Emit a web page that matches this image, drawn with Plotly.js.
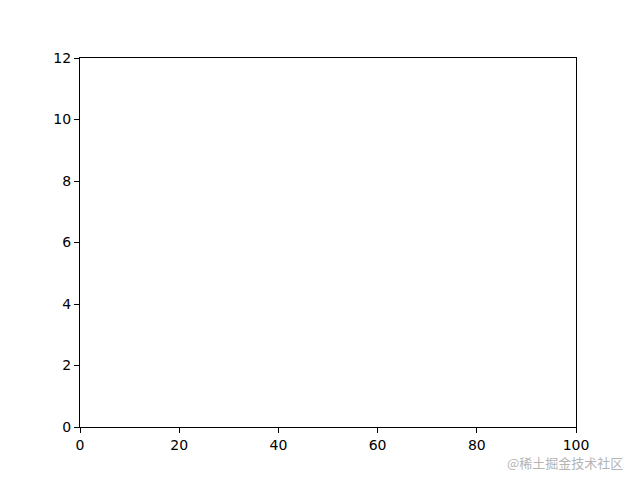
<!DOCTYPE html>
<html>
<head>
<meta charset="utf-8">
<script src="https://cdn.plot.ly/plotly-3.0.1.min.js"></script>
<style>
  html, body { margin: 0; padding: 0; background: #fff; }
  #chart { width: 640px; height: 480px; }
</style>
</head>
<body>
<div id="chart"></div>
<script>
// Empty axes: only the ranges and ticks are shown
const xValues = [];
const yValues = [];
const xTicks = [0, 20, 40, 60, 80, 100];
const yTicks = [0, 2, 4, 6, 8, 10, 12];
const watermark = '@稀土掘金技术社区';

const axisBase = {
    showline: true,
    mirror: true,
    linecolor: '#000',
    linewidth: 1,
    showgrid: false,
    zeroline: false,
    ticks: 'outside',
    ticklen: 5,
    tickwidth: 1,
    tickcolor: '#000',
    tickmode: 'array',
    tickfont: {family: 'DejaVu Sans', size: 14, color: '#000'}
};

Plotly.newPlot('chart', [
    { x: xValues, y: yValues, type: 'scatter', mode: 'lines', showlegend: false }
], {
    width: 640,
    height: 480,
    margin: {l: 80, r: 64, t: 58, b: 53},
    paper_bgcolor: '#fff',
    plot_bgcolor: '#fff',
    xaxis: { ...axisBase, range: [0, 100], tickvals: xTicks },
    yaxis: { ...axisBase, range: [0, 12], tickvals: yTicks },
    annotations: [{
        text: watermark,
        xref: 'paper', yref: 'paper',
        x: 1.099, y: -0.096,
        xanchor: 'right', yanchor: 'middle',
        showarrow: false,
        font: {family: 'Noto Sans CJK SC', size: 13, color: '#b4b4b4'}
    }]
}, {displayModeBar: false, staticPlot: true});
</script>
</body>
</html>
